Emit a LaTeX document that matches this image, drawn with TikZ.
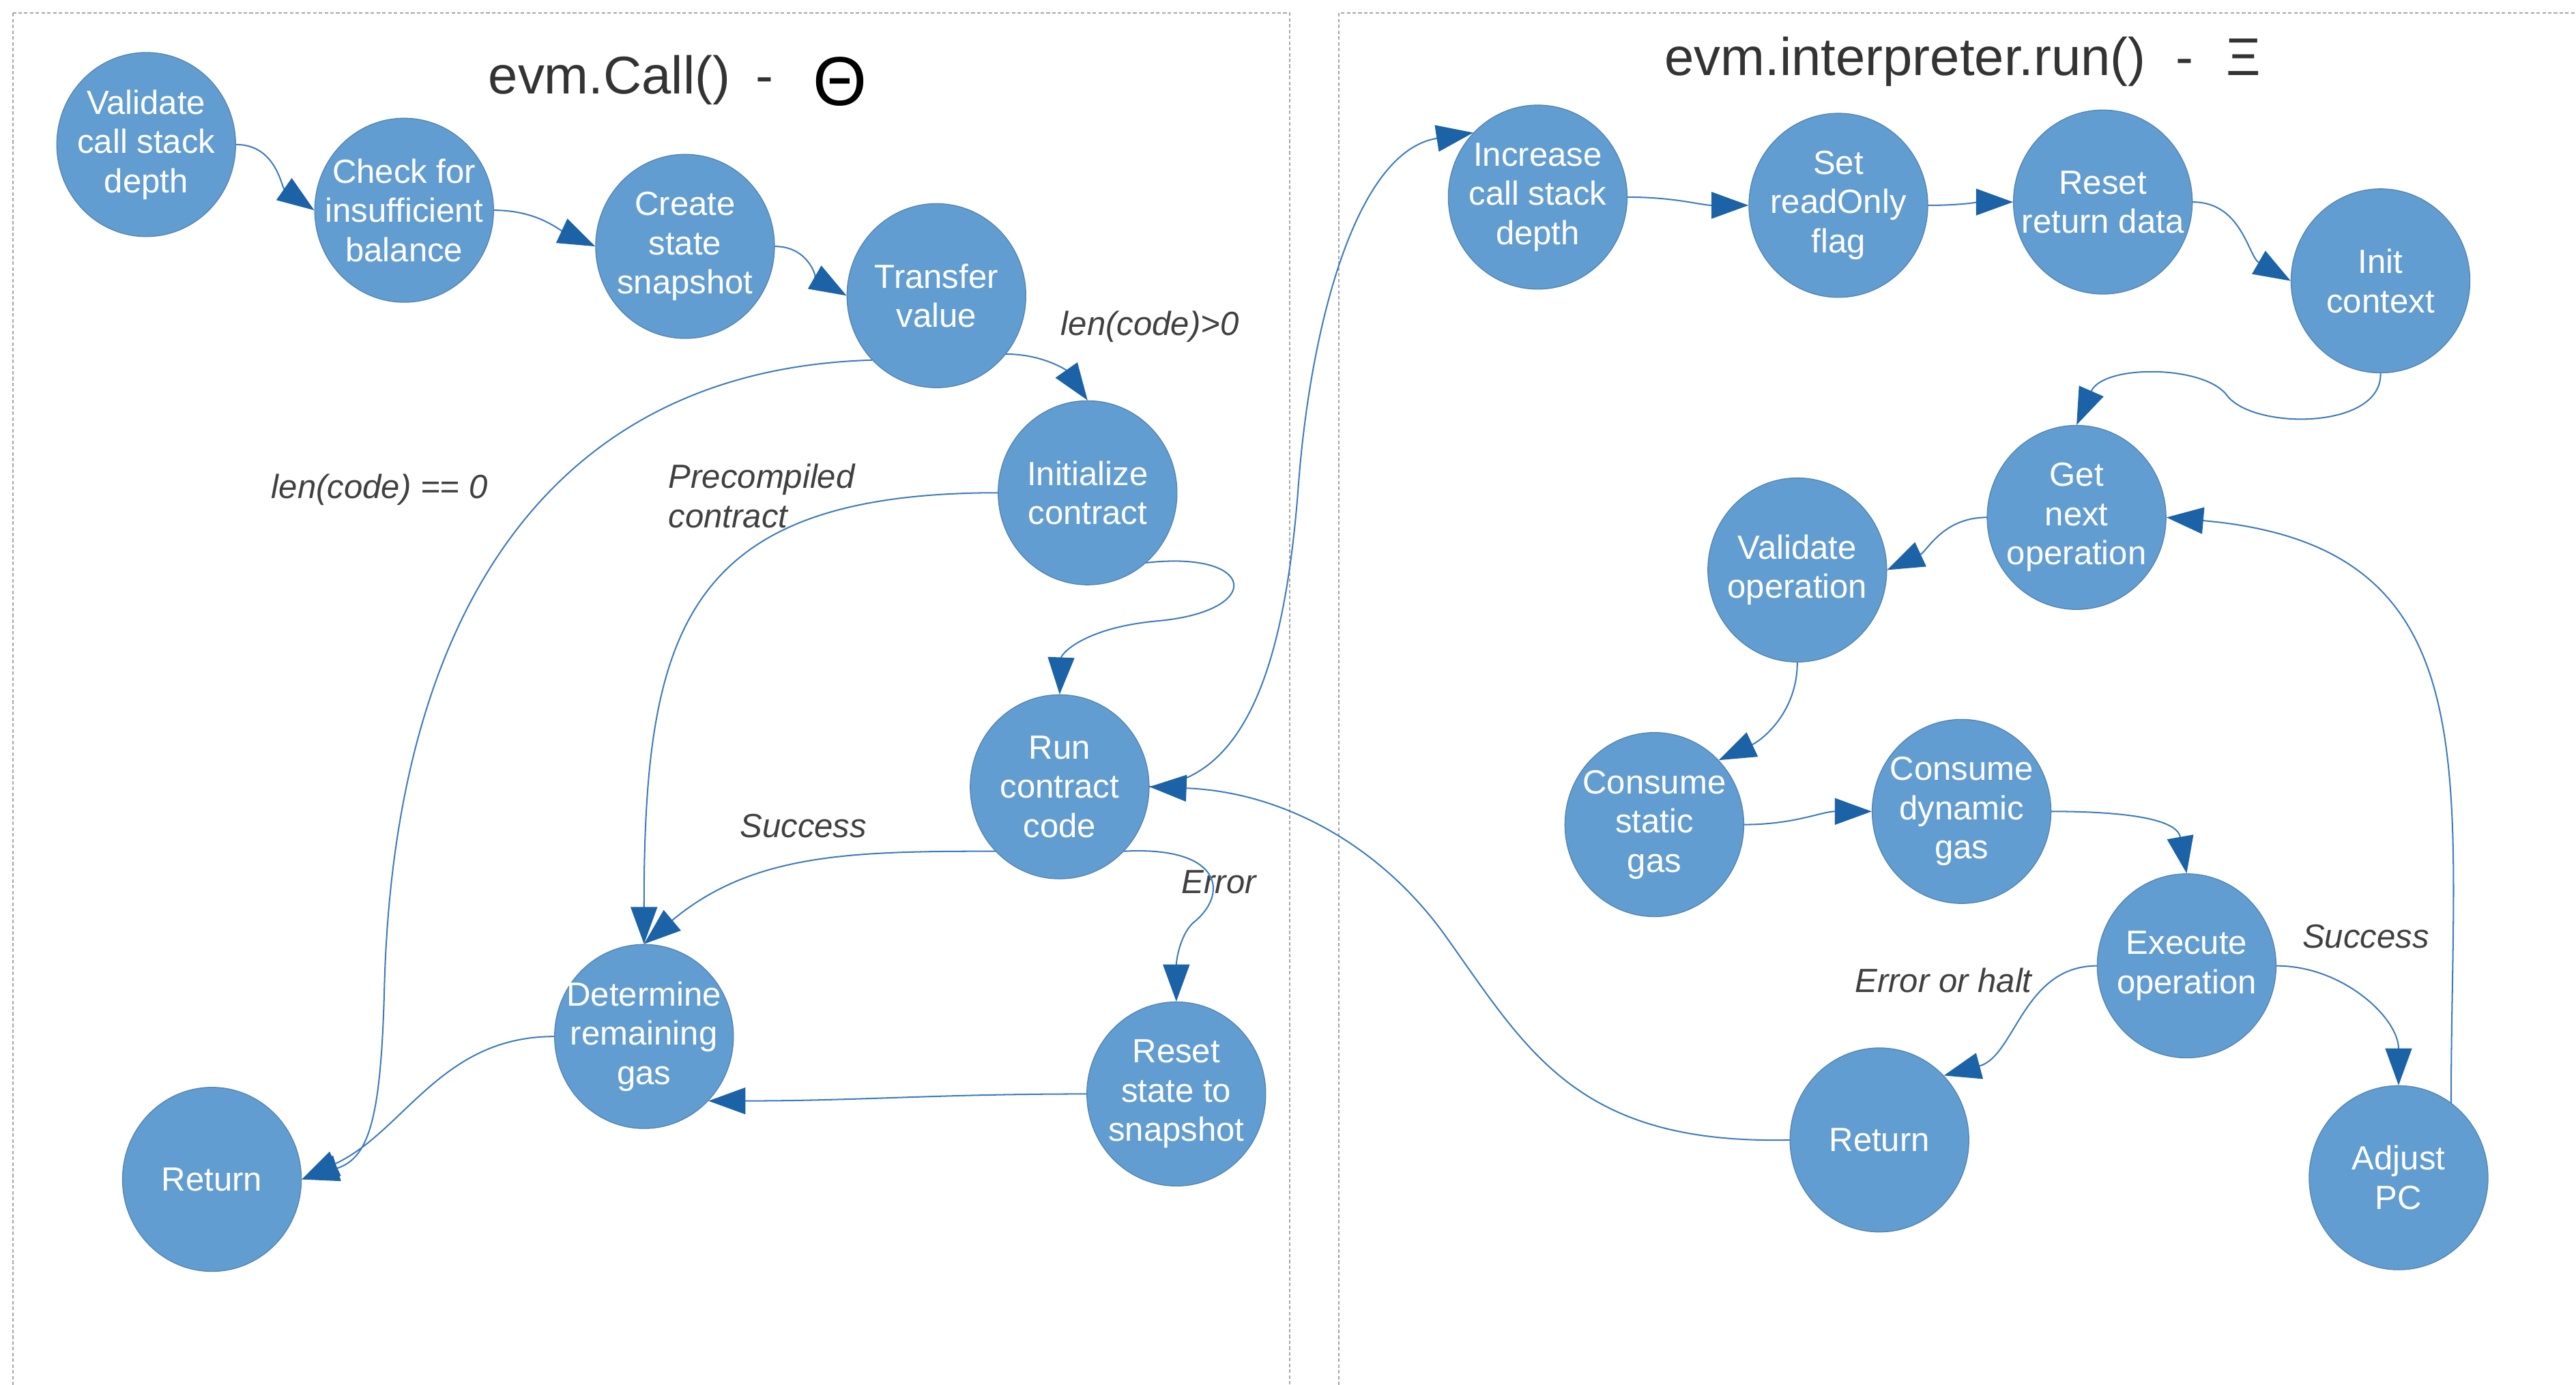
\documentclass[tikz,border=0pt]{standalone}
\usepackage{fontspec}
\setmainfont{Liberation Sans}
\usetikzlibrary{shapes.geometric,arrows.meta}
\definecolor{nodeblue}{HTML}{629DD2}
\definecolor{edgeblue}{HTML}{3D7BBE}
\definecolor{tipblue}{HTML}{1C62A6}
\definecolor{labelgray}{HTML}{404040}

\begin{document}
\begin{tikzpicture}[
    x=0.025cm, y=0.025cm,
    line cap=round,
    stage/.style={ellipse, fill=nodeblue, draw=nodeblue!85!black, line width=.4pt,
      minimum width=2.72cm, minimum height=2.8cm, inner sep=-1cm,
      text=white, align=center, font=\fontsize{14.5}{17}\selectfont},
    flow/.style={draw=edgeblue, line width=.6pt,
      -{Triangle[length=16pt,width=11.5pt,color=tipblue]}},
    cond/.style={text=labelgray, font=\fontsize{14.5}{17}\selectfont\itshape},
    title/.style={text=black!80, inner sep=0pt, font=\fontsize{23}{27}\selectfont}
]
  \useasboundingbox (0,0) rectangle (1568,-843);
  \begin{scope}
    \clip (0,0) rectangle (1568,-843);
    \draw[gray!70, line width=.7pt, line cap=butt, dash pattern=on 1.5pt off 1pt]
      (8,-8) rectangle (785,-900)
      (815,-8) rectangle (1700,-900);
  \end{scope}

  % titles
  \node[title, anchor=base west] (calltitle) at (297,-57)
    {evm.Call()\hspace{11pt}-\hspace{17pt}\raisebox{-5pt}{\fontsize{30}{30}\selectfont\color{black}Θ}};
  \node[title, anchor=base west] (runtitle) at (1013,-46)
    {evm.interpreter.run()\hspace{13pt}-\hspace{14pt}Ξ};

  % evm.Call()
  \node[stage] (vcd) at (89,-88) {Validate\\call stack\\depth};
  \node[stage] (chk) at (246,-128) {Check for\\insufficient\\balance};
  \node[stage] (snap) at (417,-150) {Create\\state\\snapshot};
  \node[stage] (xfer) at (570,-180) {Transfer\\value};
  \node[stage] (init) at (662,-300) {Initialize\\contract};
  \node[stage] (run) at (645,-479) {Run\\contract\\code};
  \node[stage] (gas) at (392,-631) {Determine\\remaining\\gas};
  \node[stage] (rst) at (716,-666) {Reset\\state to\\snapshot};
  \node[stage] (ret) at (129,-718) {Return};

  % evm.interpreter.run()
  \node[stage] (inc) at (936,-120) {Increase\\call stack\\depth};
  \node[stage] (ro) at (1119,-125) {Set\\readOnly\\flag};
  \node[stage] (rrd) at (1280,-123) {Reset\\return data};
  \node[stage] (ctx) at (1449,-171) {Init\\context};
  \node[stage] (nxt) at (1264,-315) {Get\\next\\operation};
  \node[stage] (vop) at (1094,-347) {Validate\\operation};
  \node[stage] (sgas) at (1007,-502) {Consume\\static\\gas};
  \node[stage] (dgas) at (1194,-494) {Consume\\dynamic\\gas};
  \node[stage] (exe) at (1331,-588) {Execute\\operation};
  \node[stage] (ret2) at (1144,-694) {Return};
  \node[stage] (pc) at (1460,-717) {Adjust\\PC};

  % labels
  \node[cond] (lmore) at (700,-199) {len(code)>0};
  \node[cond] (lzero) at (231,-298) {len(code) == 0};
  \node[cond, anchor=west, align=left] (lpre) at (402,-302) {Precompiled\\contract};
  \node[cond] (lsucc) at (489,-503) {Success};
  \node[cond] (lerr) at (742,-537) {Error};
  \node[cond] (lhalt) at (1183,-597) {Error or halt};
  \node[cond] (lok) at (1440,-570) {Success};

  % connectors, evm.Call()
  \draw[flow] (vcd.east) to[out=0,in=145] (chk.west);
  \draw[flow] (chk.east) to[out=0,in=155] (snap.west);
  \draw[flow] (snap.east) to[out=0,in=150] (xfer.west);
  \draw[flow] (xfer.-40) to[out=0,in=125] (init.north);
  \draw[flow] (xfer.225) .. controls (330,-225) and (240,-380) .. (234,-600)
    .. controls (232,-680) and (225,-705) .. (ret.east);
  \draw[flow] (init.-50) .. controls (765,-335) and (770,-372) .. (705,-378)
    .. controls (660,-382) and (646,-398) .. (run.north);
  \draw[flow] (init.west) to[out=180,in=90,looseness=1.4] (gas.north);
  \draw[flow] (run.225) to[out=180,in=40] (gas.north);
  \draw[flow] (run.-45) .. controls (745,-515) and (748,-545) .. (726,-562)
    .. controls (718,-570) and (716,-585) .. (rst.north);
  \draw[flow] (rst.west) to[out=180,in=0] (gas.-45);
  \draw[flow] (gas.west) to[out=180,in=25] (ret.east);
  \draw[flow] (run.east) .. controls (760,-475) and (782,-400) .. (790,-300)
    .. controls (797,-200) and (825,-92) .. (inc.135);

  % connectors, evm.interpreter.run()
  \draw[flow] (inc.east) to[out=0,in=180] (ro.west);
  \draw[flow] (ro.east) to[out=0,in=180] (rrd.west);
  \draw[flow] (rrd.east) to[out=0,in=150] (ctx.west);
  \draw[flow] (ctx.south) .. controls (1450,-262) and (1370,-262) .. (1355,-240)
    .. controls (1340,-222) and (1280,-222) .. (nxt.north);
  \draw[flow] (nxt.west) to[out=180,in=25] (vop.east);
  \draw[flow] (vop.south) to[out=-90,in=25] (sgas.45);
  \draw[flow] (sgas.east) to[out=0,in=180] (dgas.west);
  \draw[flow] (dgas.east) to[out=0,in=100] (exe.north);
  \draw[flow] (exe.west) to[out=180,in=15] (ret2.45);
  \draw[flow] (exe.east) to[out=0,in=90] (pc.north);
  \draw[flow] (pc.55) to[out=90,in=-5,looseness=1.3] (nxt.east);
  \draw[flow] (ret2.west) .. controls (960,-697) and (930,-640) .. (880,-570)
    .. controls (840,-514) and (780,-482) .. (run.east);
\end{tikzpicture}
\end{document}
